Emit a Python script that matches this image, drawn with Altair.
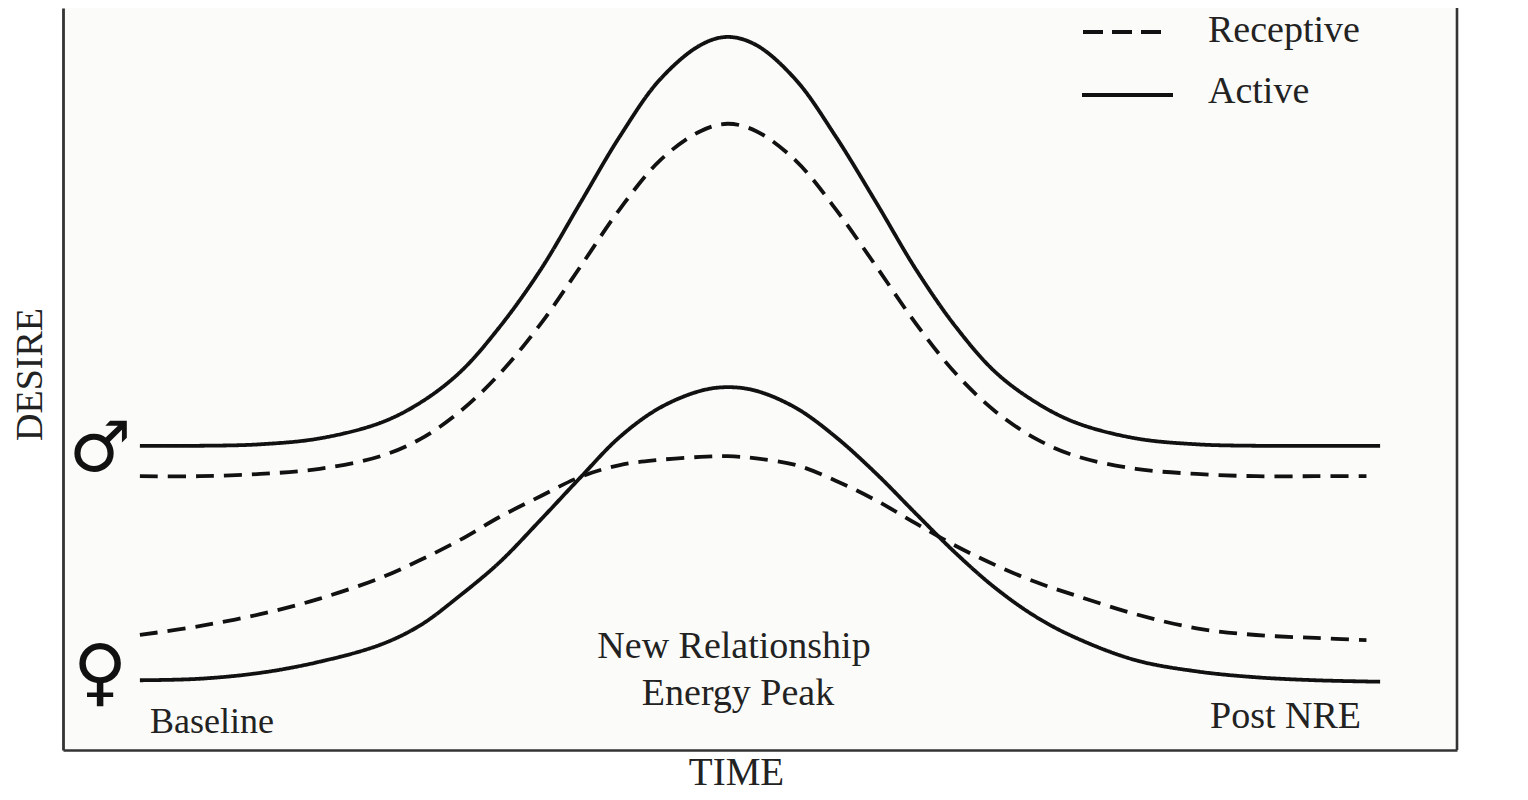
import altair as alt
import pandas as pd

# ---- data ----
TIME = [0.0, 4.8, 9.7, 14.5, 19.4, 22.6, 25.8, 29.0, 32.3, 35.5, 38.7, 41.9, 45.2, 47.4,
        49.7, 52.9, 56.1, 59.4, 62.6, 65.8, 69.0, 72.3, 75.5, 80.3, 85.2, 90.0, 94.8, 100.0]
DASHED_END_TIME = 98.9

MALE_ACTIVE = [41.0, 41.0, 41.2, 42.0, 44.1, 46.8, 50.9, 57.0, 64.7, 73.7, 82.7, 90.3, 95.0, 96.1,
               95.0, 90.3, 82.7, 73.7, 64.7, 57.0, 50.9, 46.8, 44.1, 42.0, 41.2, 41.0, 41.0, 41.0]
MALE_RECEPTIVE = [36.9, 36.9, 37.2, 37.9, 39.6, 41.9, 45.6, 50.7, 57.4, 65.1, 72.9, 79.4, 83.4, 84.4,
                  83.4, 79.4, 72.9, 65.1, 57.4, 50.7, 45.6, 41.9, 39.6, 37.9, 37.2, 36.9, 36.9, 36.9]
FEMALE_ACTIVE = [9.4, 9.6, 10.4, 11.9, 14.2, 16.8, 20.8, 25.3, 31.0, 36.7, 42.2, 46.1, 48.4, 48.9,
                 48.4, 46.1, 42.2, 37.2, 31.8, 26.5, 21.8, 17.9, 15.1, 12.1, 10.6, 9.8, 9.4, 9.2]
FEMALE_RECEPTIVE = [15.5, 16.7, 18.3, 20.4, 23.2, 25.6, 28.3, 31.4, 34.2, 36.8, 38.4, 39.1, 39.5, 39.6,
                    39.3, 38.4, 36.3, 33.6, 30.5, 27.5, 24.9, 22.6, 20.8, 18.3, 16.4, 15.5, 15.1, 14.8]

STYLES = ["Receptive", "Active"]
PHASES = ["Baseline", "New Relationship", "Energy Peak", "Post NRE"]
AXIS_TITLES = ["TIME", "DESIRE"]
SEX_SYMBOLS = ["\u2642", "\u2640"]

rows = []
def add(curve, style, values):
    times = list(TIME)
    if style == "Receptive":
        times[-1] = DASHED_END_TIME
    for t, v in zip(times, values):
        rows.append({"curve": curve, "style": style, "time": t, "desire": v})

add("male_active", "Active", MALE_ACTIVE)
add("male_receptive", "Receptive", MALE_RECEPTIVE)
add("female_active", "Active", FEMALE_ACTIVE)
add("female_receptive", "Receptive", FEMALE_RECEPTIVE)
df = pd.DataFrame(rows)

W, H = 1394, 742
SERIF = "Liberation Serif"
INK = "#111111"
TXT = "#222222"
FRAME = "#333333"
DASH = [18, 10]

lines = alt.Chart(df).mark_line(interpolate="catmull-rom", strokeWidth=3.8, color=INK).encode(
    x=alt.X("time:Q",
            scale=alt.Scale(domain=[-6.2, 106.2], nice=False, zero=False),
            axis=alt.Axis(title=AXIS_TITLES[0], labels=False, ticks=False, grid=False,
                          domainColor=FRAME, domainWidth=2.6,
                          titleFont=SERIF, titleFontSize=39, titleFontWeight="normal",
                          titleColor=TXT, titleX=673, titleY=34,
                          titleBaseline="alphabetic", titleAlign="center")),
    y=alt.Y("desire:Q",
            scale=alt.Scale(domain=[0, 100], nice=False, zero=False),
            axis=alt.Axis(title=AXIS_TITLES[1], labels=False, ticks=False, grid=False,
                          domainColor=FRAME, domainWidth=2.8,
                          titleFont=SERIF, titleFontSize=38, titleFontWeight="normal",
                          titleColor=TXT, titleAngle=270, titleX=-22, titleY=366,
                          titleBaseline="alphabetic", titleAlign="center")),
    strokeDash=alt.StrokeDash("style:N",
                              scale=alt.Scale(domain=STYLES, range=[DASH, [1, 0]]),
                              legend=None),
    detail="curve:N",
)

def one(label):
    return alt.Chart(pd.DataFrame({"label": [label]}))

right_border = one("frame").mark_rule(color=FRAME, strokeWidth=2.6).encode(
    x=alt.value(W), y=alt.value(0), y2=alt.value(H))

leg_dash = one(STYLES[0]).mark_rule(color=INK, strokeWidth=4.2, strokeDash=[20, 9]).encode(
    x=alt.value(1020), x2=alt.value(1098), y=alt.value(24))
leg_solid = one(STYLES[1]).mark_rule(color=INK, strokeWidth=4.2).encode(
    x=alt.value(1019), x2=alt.value(1110), y=alt.value(87))

def text(label, x, y, size=38, align="left", font=SERIF, weight="normal", baseline="alphabetic"):
    return one(label).mark_text(font=font, fontSize=size, color=TXT, align=align,
                                baseline=baseline, fontWeight=weight).encode(
        x=alt.value(x), y=alt.value(y), text="label:N")

leg_t1 = text(STYLES[0], 1145, 34)
leg_t2 = text(STYLES[1], 1145, 95)

ann1 = text(PHASES[0], 87, 725, size=36)
ann2 = text(PHASES[1], 671, 650, align="center")
ann3 = text(PHASES[2], 675, 697, align="center")
ann4 = text(PHASES[3], 1147, 720, size=38)

male = one(SEX_SYMBOLS[0]).mark_text(font="DejaVu Sans", fontSize=70, color=INK, align="center",
                                     baseline="middle", fontWeight="bold").encode(
    x=alt.value(37), y=alt.value(442), text="label:N")
female = one(SEX_SYMBOLS[1]).mark_text(font="DejaVu Sans", fontSize=74, color=INK, align="center",
                                       baseline="middle", fontWeight="bold").encode(
    x=alt.value(37), y=alt.value(667), text="label:N")

chart = alt.layer(
    lines, right_border, leg_dash, leg_solid, leg_t1, leg_t2,
    ann1, ann2, ann3, ann4, male, female
).properties(
    width=W, height=H,
    padding={"left": 55, "top": 0, "right": 50, "bottom": 42},
    autosize=alt.AutoSizeParams(type="none"),
    background="white",
).configure_view(fill="#fbfbf9", stroke=None)

chart.save("out.html", embed_options={"renderer": "svg", "actions": False})
